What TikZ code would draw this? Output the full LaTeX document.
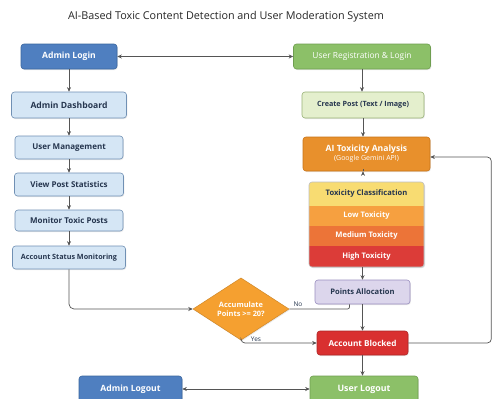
\documentclass[tikz,border=0pt]{standalone}
\usepackage{fontspec}
\setmainfont{Open Sans}
\usetikzlibrary{shapes.geometric,arrows.meta,calc,shadows}
\definecolor{bdark}{HTML}{4F7FC0}
\definecolor{bdarkb}{HTML}{3A669E}
\definecolor{blight}{HTML}{D5E6F5}
\definecolor{blightb}{HTML}{7090B4}
\definecolor{gdark}{HTML}{8CC068}
\definecolor{gdarkb}{HTML}{6F9E50}
\definecolor{glight}{HTML}{E4EFCD}
\definecolor{glightb}{HTML}{98B276}
\definecolor{aiorange}{HTML}{E8902C}
\definecolor{aiorangeb}{HTML}{C87418}
\definecolor{tyellow}{HTML}{F8DC72}
\definecolor{tlow}{HTML}{F6A040}
\definecolor{tmed}{HTML}{EC7438}
\definecolor{thigh}{HTML}{DC3C38}
\definecolor{lav}{HTML}{DCD6EC}
\definecolor{lavb}{HTML}{9A8FC0}
\definecolor{diaor}{HTML}{F5A030}
\definecolor{blockred}{HTML}{D93030}
\definecolor{navytext}{HTML}{26364F}
\definecolor{linegrey}{HTML}{555555}
\tikzset{
  softshadow/.style={drop shadow={opacity=0.18, shadow xshift=0.8pt, shadow yshift=-1pt}},
  box/.style={rectangle, rounded corners=3pt, inner sep=0pt, align=center, font=\fontsize{8}{10}\selectfont\bfseries, line width=0.6pt, softshadow},
  darkblue/.style={box, fill=bdark, draw=bdarkb, text=white},
  lightblue/.style={box, fill=blight, draw=blightb, text=navytext},
  darkgreen/.style={box, fill=gdark, draw=gdarkb, text=white},
  lightgreen/.style={box, fill=glight, draw=glightb, text=navytext},
  band/.style={rectangle, inner sep=0pt, minimum width=115pt, font=\fontsize{7.6}{9}\selectfont\bfseries},
  conn/.style={draw=linegrey, line width=0.7pt, -{Stealth[length=4.5pt,width=4pt]}},
  plainconn/.style={draw=linegrey, line width=0.7pt},
  lbl/.style={font=\fontsize{6.5}{8}\selectfont, text=navytext, inner sep=1pt}
}
\begin{document}
\begin{tikzpicture}[x=1pt,y=-1pt]
\useasboundingbox (0,0) rectangle (493,399);
\fill[white] (0,0) rectangle (493,399);
\clip (0,0) rectangle (493,399);

\node[font=\fontsize{10.8}{12}\selectfont, text=black!85] (title) at (226,17) {AI-Based Toxic Content Detection and User Moderation System};

% left column
\node[darkblue, minimum width=96pt, minimum height=25pt, font=\fontsize{8.6}{10}\selectfont\bfseries] (alogin) at (69,56.5) {Admin Login};
\node[lightblue, minimum width=115pt, minimum height=26pt, font=\fontsize{8.6}{10}\selectfont\bfseries] (adash) at (69,105) {Admin Dashboard};
\node[lightblue, minimum width=108pt, minimum height=23pt] (umgmt) at (69,147.5) {User Management};
\node[lightblue, minimum width=109pt, minimum height=23pt] (vps) at (69,184.5) {View Post Statistics};
\node[lightblue, minimum width=108pt, minimum height=21pt] (mtp) at (69,220.5) {Monitor Toxic Posts};
\node[lightblue, minimum width=113pt, minimum height=23pt, font=\fontsize{7.2}{9}\selectfont\bfseries] (asm) at (69,257.5) {Account Status Monitoring};

% right column
\node[darkgreen, minimum width=137pt, minimum height=25pt, font=\fontsize{8.4}{10}\selectfont] (ureg) at (362,56.5) {User Registration \& Login};
\node[lightgreen, minimum width=122pt, minimum height=26pt, font=\fontsize{7.2}{9}\selectfont\bfseries] (cpost) at (363,105) {Create Post (Text / Image)};
\node[box, fill=aiorange, draw=aiorangeb, text=white, minimum width=127pt, minimum height=34pt, font=\fontsize{8.6}{10}\selectfont\bfseries] (ai) at (366.5,154) {AI Toxicity Analysis\\[-1pt]{\fontsize{7}{8}\selectfont\mdseries (Google Gemini API)}};

\fill[black, opacity=0.15, rounded corners=3pt] (310,183) rectangle (425,268);
\begin{scope}
\clip[rounded corners=3pt] (309,182) rectangle (424,267);
\node[band, fill=tyellow, text=navytext, minimum height=24pt] (cls) at (366.5,194) {Toxicity Classification};
\node[band, fill=tlow, text=white, minimum height=20pt] (low) at (366.5,216) {Low Toxicity};
\node[band, fill=tmed, text=white, minimum height=20pt] (med) at (366.5,236) {Medium Toxicity};
\node[band, fill=thigh, text=white, minimum height=21pt] (high) at (366.5,256.5) {High Toxicity};
\end{scope}
\draw[draw=black!25, line width=0.6pt, rounded corners=3pt] (309,182) rectangle (424,267);

\node[box, fill=lav, draw=lavb, text=navytext, minimum width=95pt, minimum height=24pt, font=\fontsize{7.6}{9}\selectfont\bfseries] (points) at (362.5,292) {Points Allocation};
\node[diamond, fill=diaor, draw=diaor!85!black, line width=0.5pt, inner sep=0pt, minimum width=96pt, minimum height=52pt, text=white, align=center, font=\fontsize{7.4}{9}\selectfont\bfseries, softshadow] (dia) at (241,309) {Accumulate\\Points >= 20?};
\node[box, fill=blockred, draw=blockred!80!black, text=white, minimum width=91pt, minimum height=24pt, font=\fontsize{8.2}{10}\selectfont\bfseries] (blocked) at (362.5,343) {Account Blocked};

\node[darkgreen, minimum width=108pt, minimum height=26pt, font=\fontsize{8.8}{10}\selectfont\bfseries] (ulogout) at (364,389) {User Logout};
\node[darkblue, minimum width=103pt, minimum height=26pt, font=\fontsize{8.6}{10}\selectfont\bfseries] (alogout) at (130.5,389) {Admin Logout};

% connectors
\draw[conn, {Stealth[length=4.5pt,width=4pt]}-{Stealth[length=4.5pt,width=4pt]}] (alogin) -- (ureg);
\draw[conn] (alogin) -- (adash);
\draw[conn] (adash) -- (umgmt);
\draw[conn] (umgmt) -- (vps);
\draw[conn] (vps) -- (mtp);
\draw[conn] (mtp) -- (asm);
\draw[conn, rounded corners=5pt] (asm.south) |- (dia.west);

\draw[conn] (ureg.south) -- (ureg.south |- cpost.north);
\draw[conn] (cpost.south) -- (cpost.south |- ai.north);
\draw[conn] (ai.south -| cpost.south) -- (ai.south -| cpost.south |- cls.north);
\draw[conn] (high.south -| points.north) -- (points.north);
\draw[conn] (points) -- (blocked);
\draw[conn] (blocked) -- (blocked.south |- ulogout.north);

\draw[plainconn, rounded corners=2pt] ([xshift=-13pt]points.south) |- (dia.east);
\node[lbl] (nolbl) at (298,304) {No};
\draw[conn, rounded corners=4pt] (dia.south) |- (blocked.west);
\node[lbl] (yeslbl) at (256,339) {Yes};
\draw[conn, rounded corners=4pt] (blocked.east) -- ++(83,0) |- ([yshift=-3pt]ai.east);

\draw[conn, {Stealth[length=4.5pt,width=4pt]}-{Stealth[length=4.5pt,width=4pt]}] (alogout) -- (ulogout);
\end{tikzpicture}
\end{document}
